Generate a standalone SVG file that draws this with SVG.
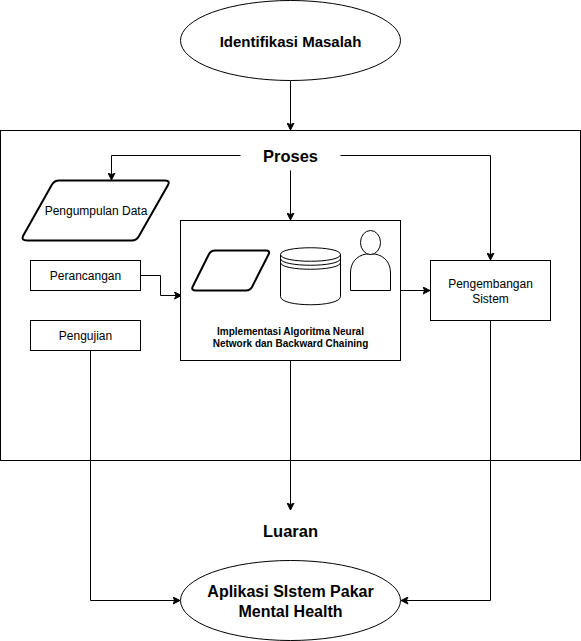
<svg xmlns="http://www.w3.org/2000/svg" width="581" height="641" viewBox="0 0 581 641">
<style>
text{font-family:"Liberation Sans",Arial,sans-serif;fill:#000;text-anchor:middle}
.s{fill:#fff;stroke:#000;stroke-width:1}
.t{fill:none;stroke:#000;stroke-width:2;stroke-linejoin:round}
.c{fill:none;stroke:#000;stroke-width:1}
.l{font-size:12px}
.b{font-size:16.500px;font-weight:bold}
.p{font-size:16px;font-weight:bold}
.h{font-size:15px;font-weight:bold}
.m{font-size:10px;font-weight:bold}
</style>
<defs>
<marker id="a" viewBox="0 0 8 8" refX="7.500" refY="4" markerWidth="8" markerHeight="8" markerUnits="userSpaceOnUse" orient="auto"><path d="M7.500 4L0.500 7.500L2.200 4L0.500 0.500Z" fill="#000" stroke="#000" stroke-width="1"/></marker>
</defs>
<g id="proses-box"><rect class="s" x="0.500" y="130.500" width="580" height="330"/></g>
<g id="connectors">
<path class="c" d="M290.500 80.500V130" marker-end="url(#a)"/>
<path class="c" d="M240.500 155.500H111.500V180" marker-end="url(#a)"/>
<path class="c" d="M340.500 155.500H490.500V260" marker-end="url(#a)"/>
<path class="c" d="M290.500 170.500V220" marker-end="url(#a)"/>
<path class="c" d="M140.500 275.500H160.500V295.500H181.500" marker-end="url(#a)"/>
<path class="c" d="M400.500 290.500H430" marker-end="url(#a)"/>
<path class="c" d="M290.500 360.500V510" marker-end="url(#a)"/>
<path class="c" d="M90.500 350.500V600.500H180" marker-end="url(#a)"/>
<path class="c" d="M490.500 320.500V600.500H401" marker-end="url(#a)"/>
</g>
<g id="identifikasi"><ellipse class="s" cx="290.500" cy="40.500" rx="110" ry="40"/><text class="h" x="290.500" y="47">Identifikasi Masalah</text></g>
<g id="proses"><text class="b" x="290.500" y="162">Proses</text></g>
<g id="pengumpulan"><path class="t" d="M27 240.500Q21 240.500 23 236L52 184.500Q54.500 180.500 59 180.500H165Q170.500 180.500 168 185L139 236Q136.500 240.500 132 240.500Z"/><text class="l" x="96" y="215">Pengumpulan Data</text></g>
<g id="perancangan"><rect class="s" x="30.500" y="260.500" width="110" height="30"/><text class="l" x="85.500" y="280">Perancangan</text></g>
<g id="pengujian"><rect class="s" x="30.500" y="320.500" width="110" height="30"/><text class="l" x="85.500" y="340">Pengujian</text></g>
<g id="implementasi"><rect class="s" x="180.500" y="220.500" width="220" height="140"/>
<path class="t" d="M196 290.500Q190.500 290.500 193 286L209 254Q211 250.500 215 250.500H266Q270.500 250.500 268.500 254.500L252 287Q250 290.500 246 290.500Z"/>
<path class="s" d="M280.500 254.500C280.500 245.500 340.500 245.500 340.500 254.500V296.500C340.500 307.500 280.500 307.500 280.500 296.500Z"/>
<path class="c" d="M280.500 254.500C280.500 263.500 340.500 263.500 340.500 254.500M280.500 258.500C280.500 267.500 340.500 267.500 340.500 258.500M280.500 262.500C280.500 271.500 340.500 271.500 340.500 262.500"/>
<path class="s" d="M350.500 290.500V273C350.500 263 356 256 366 254H375C385 256 390.500 263 390.500 273V290.500Z"/>
<ellipse class="s" cx="370.500" cy="242.500" rx="10" ry="12"/>
<text class="m" x="290.500" y="335">Implementasi Algoritma Neural</text><text class="m" x="290.500" y="347">Network dan Backward Chaining</text></g>
<g id="pengembangan"><rect class="s" x="430.500" y="260.500" width="120" height="60"/><text class="l" x="490.500" y="288">Pengembangan</text><text class="l" x="490.500" y="303">Sistem</text></g>
<g id="luaran"><text class="b" x="290.500" y="537">Luaran</text></g>
<g id="aplikasi"><ellipse class="s" cx="290.500" cy="600.500" rx="110" ry="40"/><text class="p" x="290.500" y="597">Aplikasi SIstem Pakar</text><text class="p" x="290.500" y="617">Mental Health</text></g>
</svg>
